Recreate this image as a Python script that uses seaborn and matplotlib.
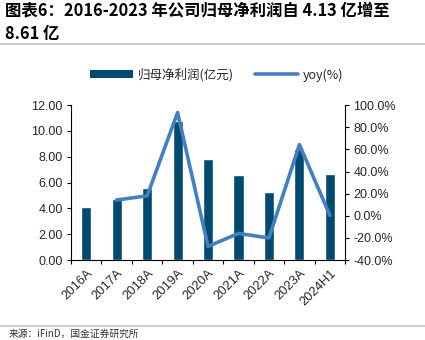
import numpy as np
import pandas as pd
import matplotlib
matplotlib.use("Agg")
import matplotlib.pyplot as plt
from matplotlib.lines import Line2D
from matplotlib.patches import Patch
from matplotlib.ticker import FuncFormatter, FixedLocator
import seaborn as sns

# Net profit attributable to parent (亿元) and year-over-year growth (%)
periods = ["2016A", "2017A", "2018A", "2019A", "2020A", "2021A", "2022A", "2023A", "2024H1"]
net_profit = [4.13, 4.72, 5.57, 10.76, 7.79, 6.55, 5.24, 8.61, 6.63]
yoy_periods = ["2017A", "2018A", "2019A", "2020A", "2021A", "2022A", "2023A", "2024H1"]
yoy = [14.3, 18.0, 93.2, -27.6, -15.9, -20.0, 64.3, 0.5]

title_text = "图表6：2016-2023 年公司归母净利润自 4.13 亿增至\n8.61 亿"
source_text = "来源：iFinD，国金证券研究所"
bar_label = "归母净利润(亿元)"
line_label = "yoy(%)"

BAR_COLOR = "#004a70"
LINE_COLOR = "#4280c2"
RULE_COLOR = "#b7c9d6"
LATIN = ["Liberation Sans", "DejaVu Sans"]

sns.set_theme(style="white")
plt.rcParams["font.family"] = ["Noto Sans CJK SC", "DejaVu Sans"]

fig = plt.figure(figsize=(4.25, 3.4), dpi=100)
ax = fig.add_axes([0.167, 0.235, 0.645, 0.456])

df = pd.DataFrame({"period": periods, "profit": net_profit})
sns.barplot(data=df, x="period", y="profit", color=BAR_COLOR, width=0.33,
            saturation=1, ax=ax)

ax2 = ax.twinx()
pos = {p: i for i, p in enumerate(periods)}
dfl = pd.DataFrame({"x": [pos[p] for p in yoy_periods], "yoy": yoy})
sns.lineplot(data=dfl, x="x", y="yoy", color=LINE_COLOR, linewidth=2.6, ax=ax2)

ax.set_xlim(-0.5, len(periods) - 0.5)
ax.set_ylim(0, 12)
ax.set_yticks(np.arange(0, 12.01, 2))
ax.yaxis.set_major_formatter(FuncFormatter(lambda v, _: f"{v:.2f}"))
ax2.set_ylim(-40, 100)
ax2.set_yticks(np.arange(-40, 100.01, 20))
ax2.yaxis.set_major_formatter(FuncFormatter(lambda v, _: f"{v:.1f}%"))

ax.set_xlabel("")
ax.set_ylabel("")
ax2.set_xlabel("")
ax2.set_ylabel("")

ax.set_xticks(range(len(periods)))
ax.set_xticklabels(periods, rotation=45, ha="right", rotation_mode="anchor",
                   fontsize=9.3, family=LATIN)
ax.xaxis.set_minor_locator(FixedLocator(np.arange(-0.5, len(periods), 1.0)))
ax.tick_params(axis="x", which="major", length=0, pad=5)
ax.tick_params(axis="x", which="minor", length=3, width=0.8, color="black",
               direction="out", bottom=True)
ax.tick_params(axis="y", length=3, width=0.8, color="black", direction="out",
               left=True, labelsize=9, pad=3)
ax2.tick_params(axis="y", length=3, width=0.8, color="black", direction="out",
                right=True, labelsize=9, pad=3)
for lab in ax.get_yticklabels() + ax2.get_yticklabels():
    lab.set_family(LATIN)

for a in (ax, ax2):
    a.grid(False)
    a.spines["top"].set_visible(False)
    for s in ("left", "right", "bottom"):
        a.spines[s].set_color("black")
        a.spines[s].set_linewidth(0.8)
ax.spines["right"].set_visible(False)
ax2.spines["left"].set_visible(False)
ax2.spines["bottom"].set_visible(False)

# Legend above the plot
handles = [Patch(facecolor=BAR_COLOR, edgecolor="none"),
           Line2D([0], [0], color=LINE_COLOR, linewidth=2.6)]
fig.legend(handles, [bar_label, line_label], loc="center",
           bbox_to_anchor=(0.51, 0.78), ncol=2, frameon=False, fontsize=9,
           handlelength=3.4, handleheight=0.6, columnspacing=1.7,
           handletextpad=0.4)

# Title, rules and source
fig.text(0.012, 0.997, title_text, ha="left", va="top", fontsize=11.8,
         fontweight="bold", style="italic", color="black", linespacing=1.4)
fig.add_artist(Line2D([0, 1], [1 - 44 / 340, 1 - 44 / 340],
                      transform=fig.transFigure, color=RULE_COLOR, linewidth=1.2))
fig.add_artist(Line2D([0, 1], [1 - 326 / 340, 1 - 326 / 340],
                      transform=fig.transFigure, color=RULE_COLOR, linewidth=1.2))
fig.text(0.02, 0.003, source_text, ha="left", va="bottom", fontsize=7,
         color="#333333")

fig.savefig("out.png", dpi=100)
